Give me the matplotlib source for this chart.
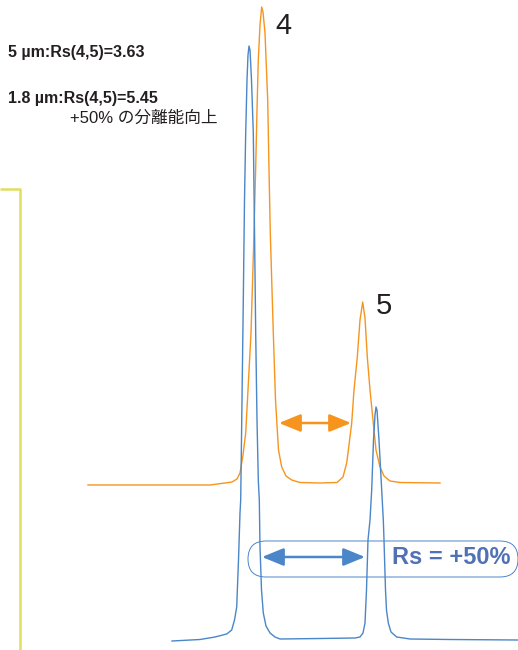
import matplotlib
matplotlib.use("Agg")
import matplotlib.pyplot as plt
from matplotlib.patches import FancyBboxPatch
from matplotlib import font_manager

# ---------------- data (retention position, detector signal) ----------------
orange_t = [88, 150, 210, 225, 232, 237, 240, 243, 245.7, 248, 251, 253.5, 255.7, 257, 258.3, 260, 261.7,
            263, 265, 267.7, 269, 270.3, 273.3, 275.5, 276.7, 278.5, 281.7, 286, 291.7, 300, 320, 337,
            343, 346.7, 349, 351.7, 354, 357.3, 360, 362.7, 365, 367.3, 370, 373.3, 376, 380, 384, 390,
            400, 440]
orange_y = [485, 485, 485, 483, 482, 479, 473, 455, 433, 390, 333, 250, 167, 110, 60, 25, 7,
            12, 33, 100, 170, 233, 333, 400, 420, 450, 467, 476, 480, 482.5, 483, 482.5,
            477, 463, 445, 423, 390, 357, 320, 302, 318, 357, 390, 423, 450, 467, 476, 481,
            482.5, 483]
orange_signal = [484 - v for v in orange_y]

blue_t = [172, 200, 215, 226.7, 231.7, 234.5, 236.7, 238.5, 240, 240.7, 242, 243.3, 244.5, 245.7, 247, 248,
          249, 250, 251.5, 253.3, 254.5, 255.7, 257, 258.3, 259.3, 260, 261.5, 263.3, 266, 270, 275,
          280, 320, 355, 360, 363, 365, 366.5, 368, 370, 371.7, 373.5, 375, 376, 377, 379, 381.7,
          383.3, 384, 385.5, 386.5, 388.3, 391, 396.7, 410, 450, 518]
blue_y = [641, 639.5, 637, 634, 630, 620, 607, 560, 513, 500, 400, 300, 200, 133, 80, 55,
          46, 50, 80, 133, 230, 333, 420, 480, 500, 547, 590, 613, 626, 633, 637,
          639, 638.5, 638, 637, 633, 623, 590, 540, 520, 490, 440, 415, 407, 410, 440, 490,
          520, 540, 590, 610, 623, 632, 637, 639, 639.5, 640]
blue_signal = [640 - v for v in blue_y]

orange_offset = 156

label_5um = "5 µm:Rs(4,5)=3.63"
label_18um = "1.8 µm:Rs(4,5)=5.45"
label_gain = "+50% の分離能向上"
peak_labels = ["4", "5"]
rs_label = "Rs = +50%"

ORANGE = "#F7941D"
BLUE = "#4A86C8"
BLUE_TXT = "#5072B4"
DARK = "#231F20"
YELLOW = "#E0DF5E"

names = {f.name for f in font_manager.fontManager.ttflist}
narrow = "Liberation Sans Narrow" if "Liberation Sans Narrow" in names else "Liberation Sans"
FAM = [narrow, "Noto Sans CJK JP", "DejaVu Sans"]

fig = plt.figure(figsize=(5.18, 6.5), dpi=100)
ax = fig.add_axes([0, 0, 1, 1])
ax.set_xlim(0, 518)
ax.set_ylim(-10, 640)
ax.axis("off")

# yellow bracket
ax.plot([0, 20, 20], [451, 451, -10], color=YELLOW, lw=1.8, solid_capstyle="butt")

# traces
ax.plot(orange_t, [s + orange_offset for s in orange_signal], color=ORANGE, lw=1.0)
ax.plot(blue_t, blue_signal, color=BLUE, lw=1.0)

# texts
ax.text(8, 640 - 52, label_5um, fontsize=11.5, fontweight="bold", family=FAM, color=DARK, va="center", ha="left")
ax.text(8, 640 - 98, label_18um, fontsize=11.5, fontweight="bold", family=FAM, color=DARK, va="center", ha="left")
ax.text(70, 640 - 118, label_gain, fontsize=12, family=FAM, color=DARK, va="center", ha="left")
ax.text(275, 640 - 26, peak_labels[0], fontsize=21, family=FAM, color=DARK, va="center", ha="left")
ax.text(376, 640 - 306, peak_labels[1], fontsize=21, family=FAM, color=DARK, va="center", ha="left")

arrow_style = "<|-|>,head_length=1.1,head_width=0.45"

# orange arrow
ax.annotate("", xy=(279, 640 - 423), xytext=(351, 640 - 423),
            arrowprops=dict(arrowstyle=arrow_style, color=ORANGE, lw=1.8,
                            mutation_scale=12, shrinkA=0, shrinkB=0))

# blue rounded box
box = FancyBboxPatch((248, 640 - 577), 270, 36, boxstyle="round,pad=0,rounding_size=18",
                     fc="none", ec=BLUE, lw=0.7, clip_on=False)
ax.add_patch(box)
ax.annotate("", xy=(262, 640 - 557), xytext=(365, 640 - 557),
            arrowprops=dict(arrowstyle=arrow_style, color=BLUE, lw=1.8,
                            mutation_scale=12, shrinkA=0, shrinkB=0))
ax.text(392, 640 - 558, rs_label, fontsize=17, fontweight="bold", family=FAM, color=BLUE_TXT,
        va="center", ha="left")

fig.savefig("out.png", dpi=100)
